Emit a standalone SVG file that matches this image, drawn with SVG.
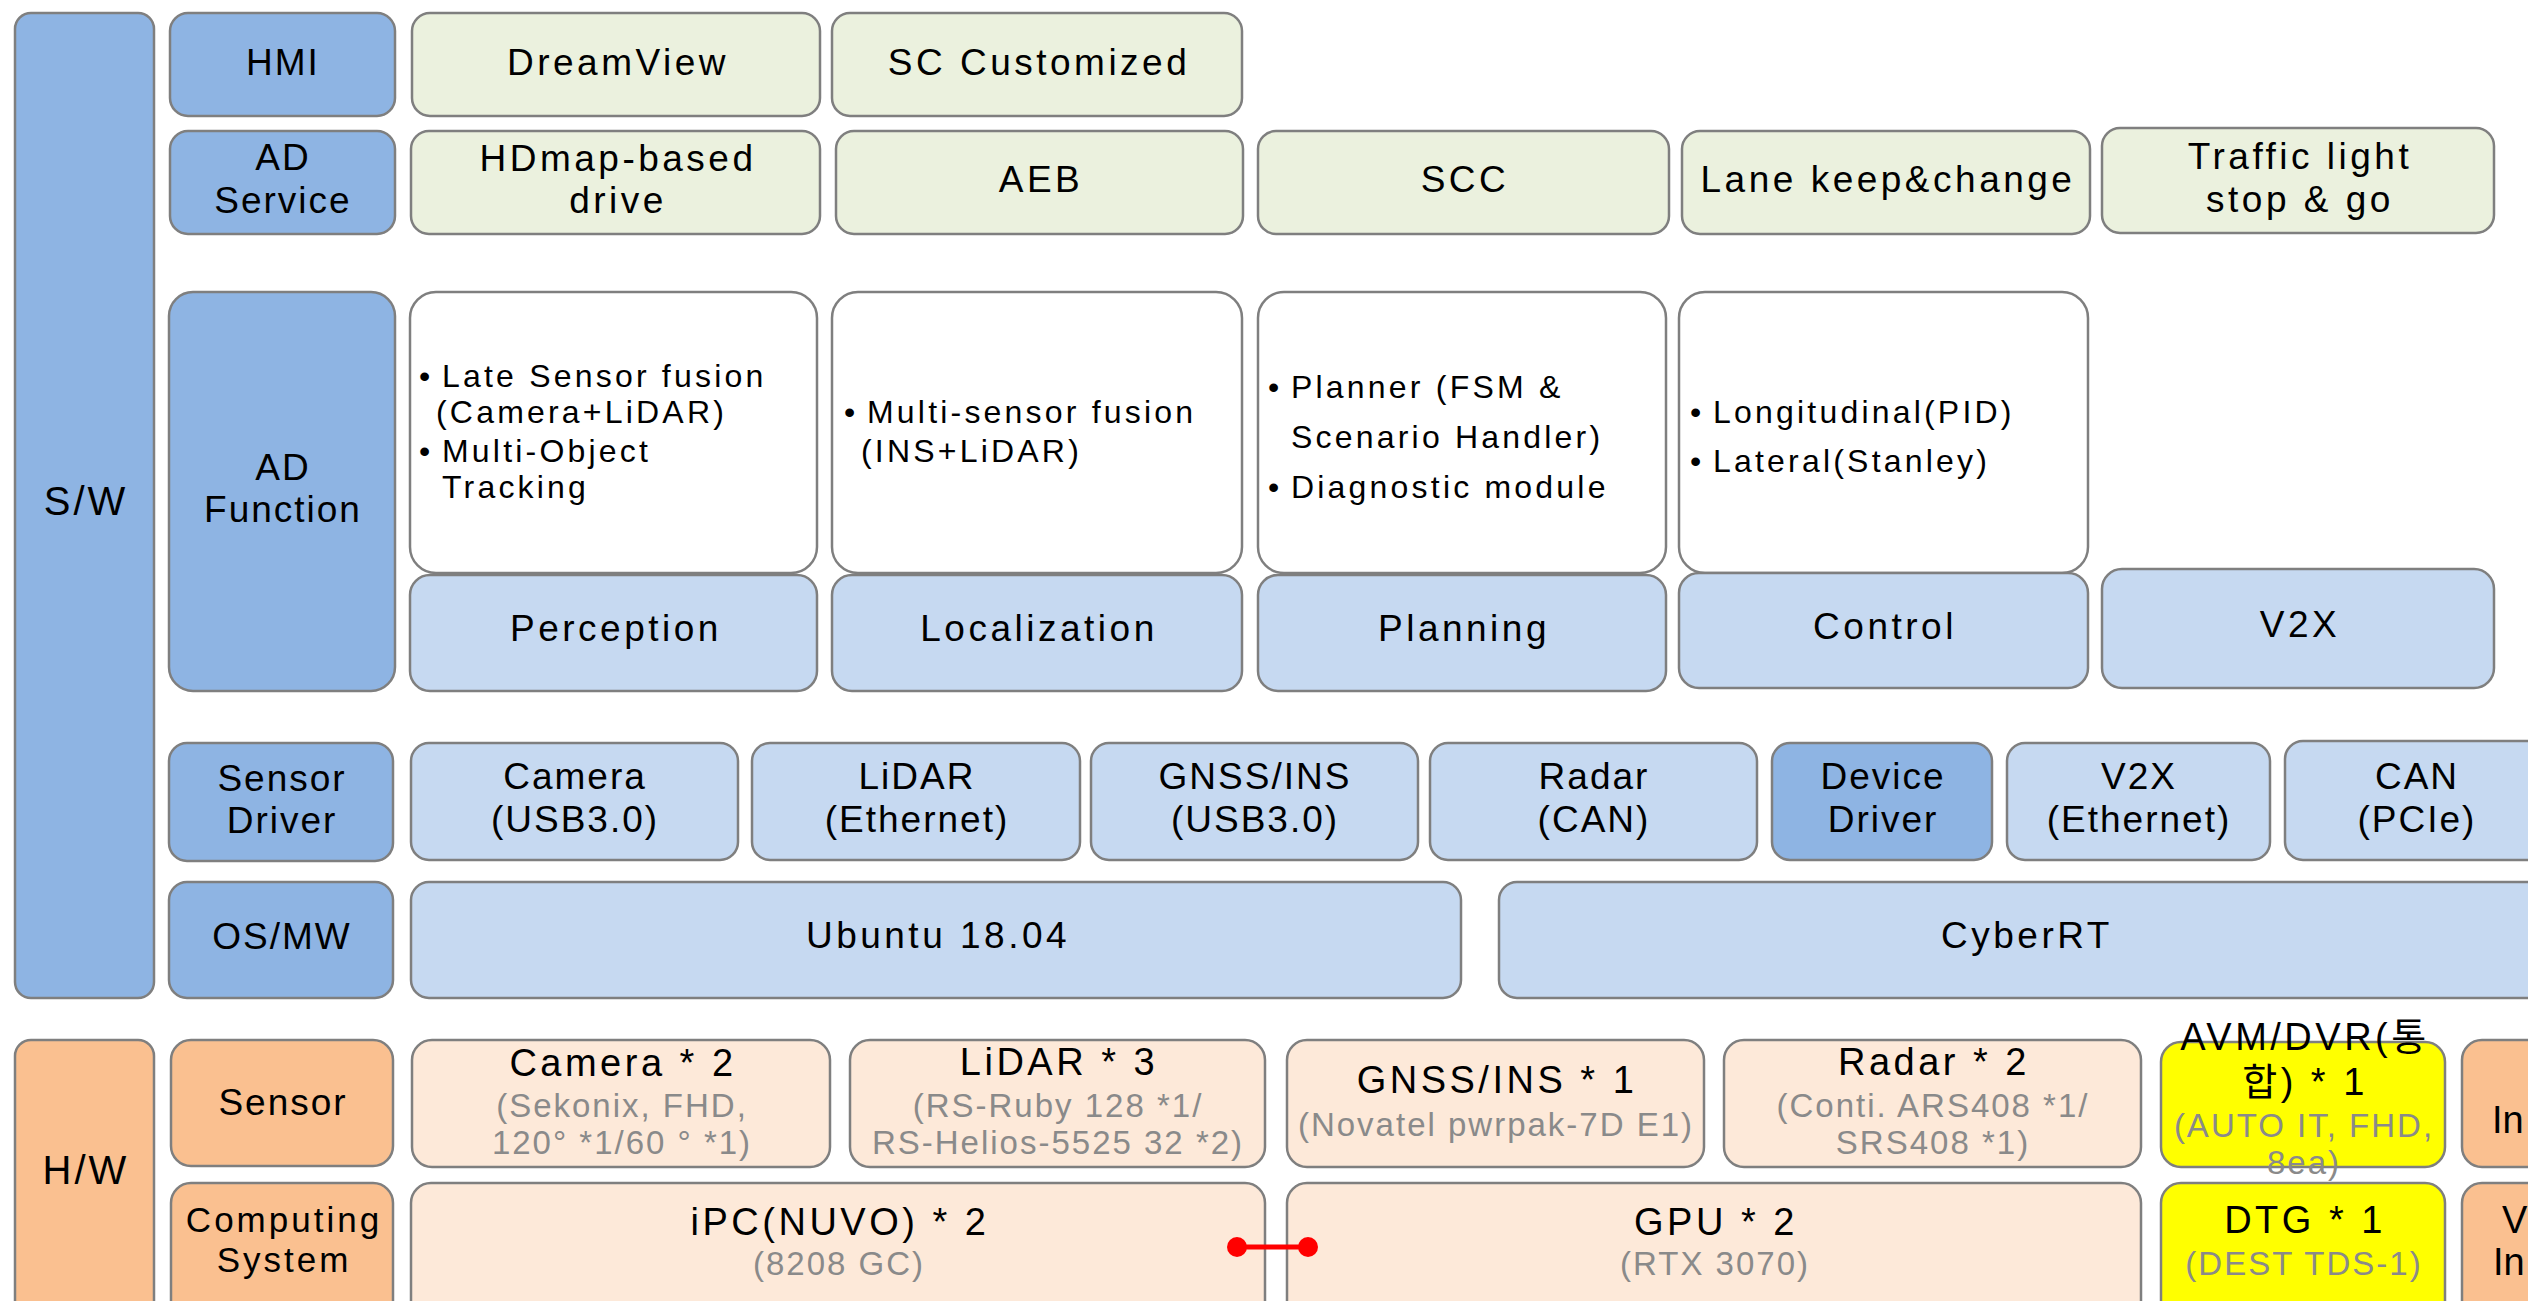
<svg xmlns="http://www.w3.org/2000/svg" width="2528" height="1301" viewBox="0 0 2528 1301">
<style>
text{font-family:"Liberation Sans","Noto Sans CJK KR",sans-serif;fill:#000;text-anchor:middle}
.b{stroke:#7f7f7f;stroke-width:2.5}
.cat{fill:#8EB4E3}
.lb{fill:#C6D9F1}
.gr{fill:#EBF1DE}
.wh{fill:#FFFFFF}
.or{fill:#FAC090}
.lo{fill:#FDE9D9}
.ye{fill:#FFFF00}
.t40{font-size:37px;letter-spacing:3.5px}
.t38{font-size:37px;letter-spacing:2px}
.t42{font-size:40px;letter-spacing:3px}
.bl{font-size:32px;letter-spacing:3.2px;text-anchor:start}
.st{font-size:33px;letter-spacing:2px;fill:#8a8a8a}
.ht{font-size:38px;letter-spacing:3.5px}
.cs{font-size:35px;letter-spacing:3px}
.edge{font-size:38px;text-anchor:start}
</style>
<g id="sw"><rect class="b cat" x="15" y="13" width="139" height="985" rx="16"/><text class="t42" x="86" y="515">S/W</text></g>
<g id="hmi"><rect class="b cat" x="170" y="13" width="225" height="103" rx="18"/><text class="t38" x="283" y="75">HMI</text></g>
<g id="dreamview"><rect class="b gr" x="412" y="13" width="408" height="103" rx="18"/><text class="t40" x="618" y="75">DreamView</text></g>
<g id="sccustom"><rect class="b gr" x="832" y="13" width="410" height="103" rx="18"/><text class="t40" x="1039" y="75">SC Customized</text></g>
<g id="adservice"><rect class="b cat" x="170" y="131" width="225" height="103" rx="18"/><text class="t38" x="283" y="170">AD<tspan x="283" dy="43">Service</tspan></text></g>
<g id="hdmap"><rect class="b gr" x="411" y="131" width="409" height="103" rx="18"/><text class="t40" x="618" y="171">HDmap-based<tspan x="618" dy="42">drive</tspan></text></g>
<g id="aeb"><rect class="b gr" x="836" y="131" width="407" height="103" rx="18"/><text class="t40" x="1041" y="192">AEB</text></g>
<g id="scc"><rect class="b gr" x="1258" y="131" width="411" height="103" rx="18"/><text class="t40" x="1465" y="192">SCC</text></g>
<g id="lane"><rect class="b gr" x="1682" y="131" width="408" height="103" rx="18"/><text class="t40" x="1888" y="192">Lane keep&amp;change</text></g>
<g id="traffic"><rect class="b gr" x="2102" y="128" width="392" height="105" rx="18"/><text class="t40" x="2300" y="169">Traffic light<tspan x="2300" dy="43">stop &amp; go</tspan></text></g>
<g id="adfunction"><rect class="b cat" x="169" y="292" width="226" height="399" rx="24"/><text class="t38" x="283" y="480">AD<tspan x="283" dy="42">Function</tspan></text></g>
<g id="perc-desc"><rect class="b wh" x="410" y="292" width="407" height="281" rx="26"/><text class="bl" x="419" y="387">•<tspan x="442">Late Sensor fusion</tspan><tspan x="436" dy="36">(Camera+LiDAR)</tspan><tspan x="419" dy="39">•</tspan><tspan x="442">Multi-Object</tspan><tspan x="442" dy="36">Tracking</tspan></text></g>
<g id="perception"><rect class="b lb" x="410" y="575" width="407" height="116" rx="20"/><text class="t40" x="616" y="641">Perception</text></g>
<g id="loc-desc"><rect class="b wh" x="832" y="292" width="410" height="281" rx="26"/><text class="bl" x="844" y="423">•<tspan x="867">Multi-sensor fusion</tspan><tspan x="861" dy="39">(INS+LiDAR)</tspan></text></g>
<g id="localization"><rect class="b lb" x="832" y="575" width="410" height="116" rx="20"/><text class="t40" x="1039" y="641">Localization</text></g>
<g id="plan-desc"><rect class="b wh" x="1258" y="292" width="408" height="281" rx="26"/><text class="bl" x="1268" y="398">•<tspan x="1291">Planner (FSM &amp;</tspan><tspan x="1291" dy="50">Scenario Handler)</tspan><tspan x="1268" dy="50">•</tspan><tspan x="1291">Diagnostic module</tspan></text></g>
<g id="planning"><rect class="b lb" x="1258" y="575" width="408" height="116" rx="20"/><text class="t40" x="1464" y="641">Planning</text></g>
<g id="ctrl-desc"><rect class="b wh" x="1679" y="292" width="409" height="281" rx="26"/><text class="bl" x="1690" y="423">•<tspan x="1713">Longitudinal(PID)</tspan><tspan x="1690" dy="49">•</tspan><tspan x="1713">Lateral(Stanley)</tspan></text></g>
<g id="control"><rect class="b lb" x="1679" y="573" width="409" height="115" rx="20"/><text class="t40" x="1885" y="639">Control</text></g>
<g id="v2x"><rect class="b lb" x="2102" y="569" width="392" height="119" rx="20"/><text class="t40" x="2300" y="637">V2X</text></g>
<g id="sensordriver"><rect class="b cat" x="169" y="743" width="224" height="118" rx="18"/><text class="t38" x="282" y="791">Sensor<tspan x="282" dy="42">Driver</tspan></text></g>
<g id="drv-camera"><rect class="b lb" x="411" y="743" width="327" height="117" rx="18"/><text class="t38" x="575" y="789">Camera<tspan x="575" dy="43">(USB3.0)</tspan></text></g>
<g id="drv-lidar"><rect class="b lb" x="752" y="743" width="328" height="117" rx="18"/><text class="t38" x="917" y="789">LiDAR<tspan x="917" dy="43">(Ethernet)</tspan></text></g>
<g id="drv-gnss"><rect class="b lb" x="1091" y="743" width="327" height="117" rx="18"/><text class="t38" x="1255" y="789">GNSS/INS<tspan x="1255" dy="43">(USB3.0)</tspan></text></g>
<g id="drv-radar"><rect class="b lb" x="1430" y="743" width="327" height="117" rx="18"/><text class="t38" x="1594" y="789">Radar<tspan x="1594" dy="43">(CAN)</tspan></text></g>
<g id="drv-device"><rect class="b cat" x="1772" y="743" width="220" height="117" rx="18"/><text class="t38" x="1883" y="789">Device<tspan x="1883" dy="43">Driver</tspan></text></g>
<g id="drv-v2x"><rect class="b lb" x="2007" y="743" width="263" height="117" rx="18"/><text class="t38" x="2139" y="789">V2X<tspan x="2139" dy="43">(Ethernet)</tspan></text></g>
<g id="drv-can"><rect class="b lb" x="2285" y="741" width="262" height="119" rx="18"/><text class="t38" x="2417" y="789">CAN<tspan x="2417" dy="43">(PCIe)</tspan></text></g>
<g id="osmw"><rect class="b cat" x="169" y="882" width="224" height="116" rx="18"/><text class="t38" x="282" y="949">OS/MW</text></g>
<g id="ubuntu"><rect class="b lb" x="411" y="882" width="1050" height="116" rx="18"/><text class="t40" x="938" y="948">Ubuntu 18.04</text></g>
<g id="cyberrt"><rect class="b lb" x="1499" y="882" width="1052" height="116" rx="18"/><text class="t40" x="2027" y="948">CyberRT</text></g>
<g id="hw"><rect class="b or" x="15" y="1040" width="139" height="290" rx="16"/><text class="t42" x="86" y="1184">H/W</text></g>
<g id="hw-sensor"><rect class="b or" x="171" y="1040" width="222" height="126" rx="20"/><text class="t38" x="283" y="1115">Sensor</text></g>
<g id="hw-camera"><rect class="b lo" x="412" y="1040" width="418" height="127" rx="20"/><text class="ht" x="623" y="1076">Camera * 2</text><text class="st" x="622" y="1117">(Sekonix, FHD,<tspan x="622" dy="37">120° *1/60 ° *1)</tspan></text></g>
<g id="hw-lidar"><rect class="b lo" x="850" y="1040" width="415" height="127" rx="20"/><text class="ht" x="1059" y="1075">LiDAR * 3</text><text class="st" x="1058" y="1117">(RS-Ruby 128 *1/<tspan x="1058" dy="37">RS-Helios-5525 32 *2)</tspan></text></g>
<g id="hw-gnss"><rect class="b lo" x="1287" y="1040" width="417" height="127" rx="20"/><text class="ht" x="1497" y="1093">GNSS/INS * 1</text><text class="st" x="1496" y="1136">(Novatel pwrpak-7D E1)</text></g>
<g id="hw-radar"><rect class="b lo" x="1724" y="1040" width="417" height="127" rx="20"/><text class="ht" x="1934" y="1075">Radar * 2</text><text class="st" x="1933" y="1117">(Conti. ARS408 *1/<tspan x="1933" dy="37">SRS408 *1)</tspan></text></g>
<g id="hw-avm"><rect class="b ye" x="2161" y="1042" width="284" height="125" rx="20"/><text class="ht" x="2305" y="1050">AVM/DVR(통<tspan x="2305" dy="45">합) * 1</tspan></text><text class="st" x="2304" y="1137">(AUTO IT, FHD,<tspan x="2304" dy="37">8ea)</tspan></text></g>
<g id="hw-extra1"><rect class="b or" x="2462" y="1040" width="200" height="127" rx="20"/><text class="edge" x="2492" y="1133">In</text></g>
<g id="computing"><rect class="b or" x="171" y="1183" width="222" height="140" rx="20"/><text class="cs" x="284" y="1232">Computing<tspan x="284" dy="40">System</tspan></text></g>
<g id="ipc"><rect class="b lo" x="411" y="1183" width="854" height="140" rx="20"/><text class="ht" x="840" y="1235">iPC(NUVO) * 2</text><text class="st" x="839" y="1275">(8208 GC)</text></g>
<g id="gpu"><rect class="b lo" x="1287" y="1183" width="854" height="140" rx="20"/><text class="ht" x="1716" y="1235">GPU * 2</text><text class="st" x="1715" y="1275">(RTX 3070)</text></g>
<g id="dtg"><rect class="b ye" x="2161" y="1183" width="284" height="140" rx="20"/><text class="ht" x="2305" y="1233">DTG * 1</text><text class="st" x="2304" y="1275">(DEST TDS-1)</text></g>
<g id="hw-extra2"><rect class="b or" x="2462" y="1183" width="200" height="140" rx="20"/><text class="edge" x="2502" y="1233">V<tspan x="2493" dy="42">In</tspan></text></g>
<g id="connectors"><line x1="1237" y1="1247" x2="1308" y2="1247" stroke="#FF0000" stroke-width="5"/><circle cx="1237" cy="1247" r="10" fill="#FF0000"/><circle cx="1308" cy="1247" r="10" fill="#FF0000"/></g>
</svg>
